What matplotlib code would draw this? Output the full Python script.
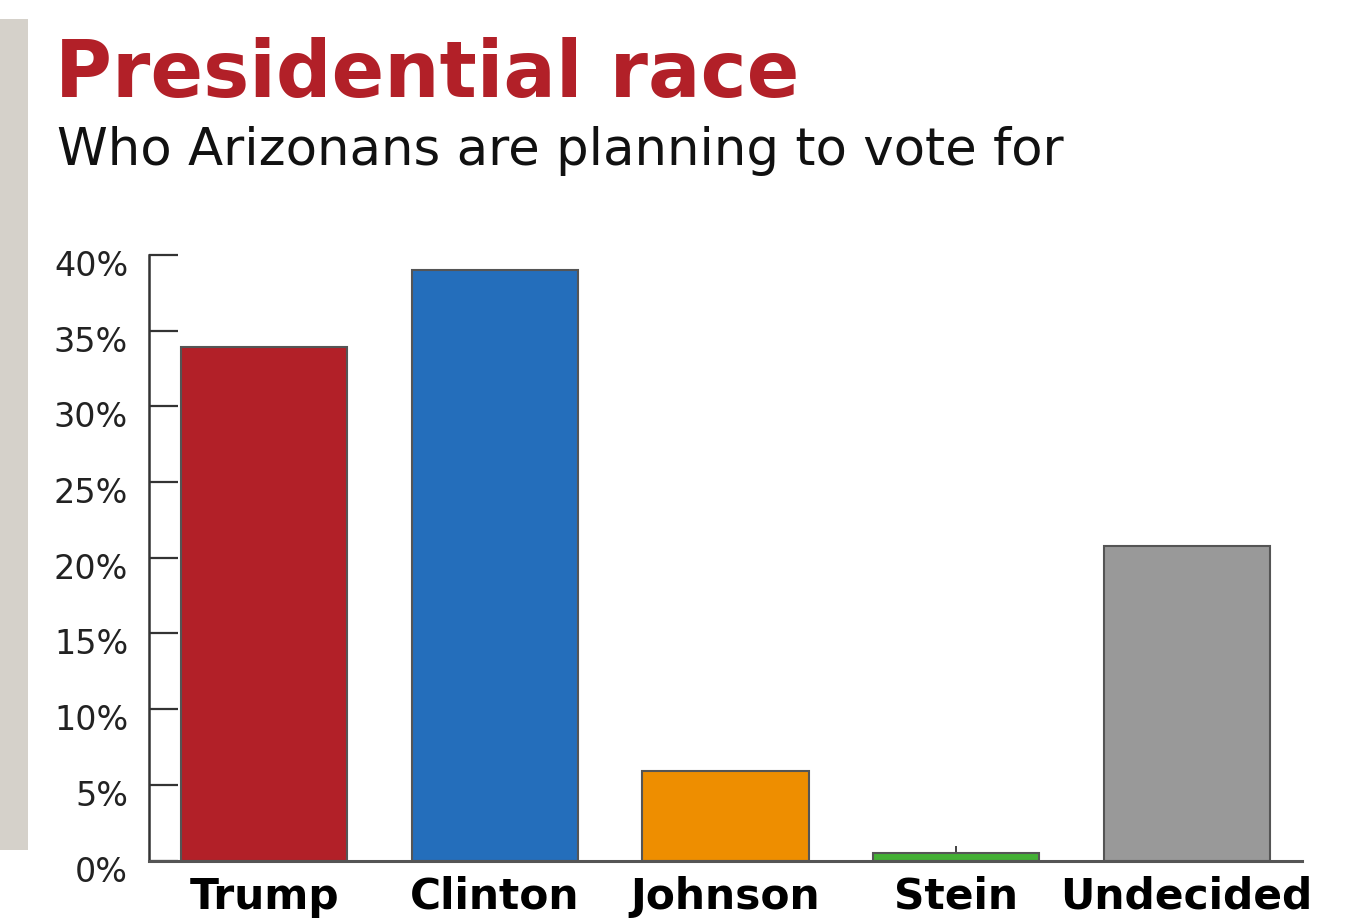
import matplotlib
matplotlib.use("Agg")
import matplotlib.pyplot as plt
from matplotlib.patches import Rectangle
from matplotlib.ticker import FuncFormatter
from matplotlib.transforms import ScaledTranslation

categories = ["Trump", "Clinton", "Johnson", "Stein", "Undecided"]
values = [33.9, 39, 5.9, 0.5, 20.8]
colors = ["#B22028", "#246EBB", "#EE8E00", "#44B035", "#999999"]
yticks = [0, 5, 10, 15, 20, 25, 30, 35, 40]

title = "Presidential race"
subtitle = "Who Arizonans are planning to vote for"

plt.rcParams['font.family'] = ['DejaVu Sans']

fig = plt.figure(figsize=(13.71, 9.21), dpi=100)
fig.patch.set_facecolor("white")

# left gray strip
fig.patches.append(Rectangle((0, 1 - 850 / 921), 28 / 1371, (850 - 19) / 921,
                             transform=fig.transFigure, facecolor="#D5D1CA",
                             edgecolor="none", zorder=0))

ax = fig.add_axes([149 / 1371, 1 - 860.5 / 921, (1302 - 149) / 1371, (860.5 - 255) / 921])
ax.set_axisbelow(True)
x = list(range(len(categories)))
ax.bar(x, values, width=0.72, color=colors, edgecolor="#555555", linewidth=1.5, zorder=2)

ax.set_xlim(-0.5, 4.5)
ax.set_ylim(0, 40)
ax.set_yticks(yticks)
ax.yaxis.set_major_formatter(FuncFormatter(lambda v, p: f"{int(v)}%"))
ax.set_xticks(x)
ax.set_xticklabels(categories, fontsize=30.5, fontweight="bold", color="black")

for s in ["top", "right"]:
    ax.spines[s].set_visible(False)
ax.spines["left"].set_color("#333333")
ax.spines["left"].set_linewidth(1.8)
ax.spines["bottom"].set_color("#555555")
ax.spines["bottom"].set_linewidth(2.2)

ax.tick_params(axis="y", direction="in", length=21, width=1.6, color="#333333",
               labelsize=24, labelcolor="#222222", pad=15)
ax.tick_params(axis="x", direction="in", length=11, width=1.2, color="#222222", pad=11)

offset = ScaledTranslation(0, -8 / 100, fig.dpi_scale_trans)
for lab in ax.get_yticklabels():
    lab.set_transform(lab.get_transform() + offset)

fig.text(55 / 1371, 1 - 97 / 921, title, fontsize=56, fontweight="bold",
         color="#B22028", va="baseline", ha="left")
fig.text(57 / 1371, 1 - 165 / 921, subtitle, fontsize=37, color="#111111",
         va="baseline", ha="left")

fig.savefig("out.png", dpi=100, facecolor="white")
